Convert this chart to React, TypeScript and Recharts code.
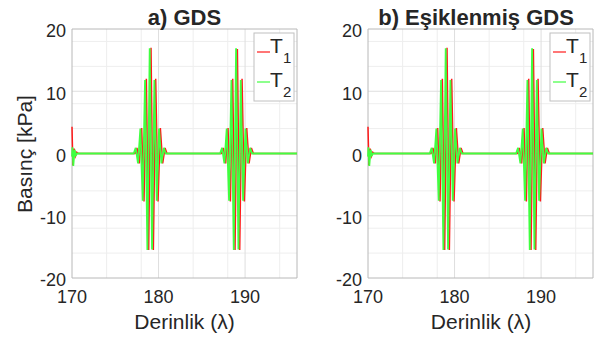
import { LineChart, Line, XAxis, YAxis, CartesianGrid, ReferenceArea } from 'recharts';

// depth (λ) and pressure (kPa)
const depthT1 = [
  170, 170.1, 170.25, 170.4, 170.55, 170.75,
  177.28, 177.51, 177.78, 178.05, 178.32, 178.59, 178.86, 179.13, 179.4, 179.67, 179.94, 180.21, 180.48, 180.75, 180.98,
  187.26, 187.49, 187.76, 188.03, 188.3, 188.57, 188.84, 189.11, 189.38, 189.65, 189.92, 190.19, 190.46, 190.73, 190.96,
  196,
];
const pressureT1 = [
  4.3, -1.9, 0.8, -0.4, 0.2, 0,
  0, 0.9, -1.6, 4.1, -7.7, 12, -15.5, 17, -15.5, 12, -7.7, 4.1, -1.6, 0.9, 0,
  0, 0.9, -1.6, 4.1, -7.7, 12, -15.5, 16.8, -15.5, 12, -7.7, 4.1, -1.6, 0.9, 0,
  0,
];
const depthT2 = [
  170, 170.05, 170.15, 170.3, 170.45, 170.6,
  177.13, 177.36, 177.63, 177.9, 178.17, 178.44, 178.71, 178.98, 179.25, 179.52, 179.79, 180.06, 180.33, 180.6, 180.83,
  187.11, 187.34, 187.61, 187.88, 188.15, 188.42, 188.69, 188.96, 189.23, 189.5, 189.77, 190.04, 190.31, 190.58, 190.81,
  196,
];
const pressureT2 = [
  -0.5, 1.0, -2.0, 0.6, -0.3, 0,
  0, 0.9, -1.6, 4.0, -7.6, 11.8, -15.5, 16.9, -15.4, 11.8, -7.6, 4.0, -1.6, 0.9, 0,
  0, 0.9, -1.6, 4.0, -7.6, 11.8, -15.5, 16.9, -15.4, 11.8, -7.6, 4.0, -1.6, 0.9, 0,
  0,
];

const xTicks = [170, 180, 190];
const yTicks = [-20, -10, 0, 10, 20];
const xMinor = [172, 174, 176, 178, 182, 184, 186, 188, 192, 194];
const yMinor = [-18, -16, -14, -12, -8, -6, -4, -2, 2, 4, 6, 8, 12, 14, 16, 18];
const xMajor = [180, 190];
const yMajor = [-10, 0, 10];

const t1 = depthT1.map((x, i) => ({ x, y: pressureT1[i] }));
const t2 = depthT2.map((x, i) => ({ x, y: pressureT2[i] }));

const FONT = '"Liberation Sans", Arial, sans-serif';
const TEXT = '#262626';
const RED = '#ff1a1a';
const GREEN = '#40ff40';

function Panel({ left }: { left: number }) {
  return (
    <div style={{ position: 'absolute', left, top: 0 }}>
      <LineChart width={300} height={338} margin={{ top: 29, right: 3, bottom: 30, left: 0 }}>
        <CartesianGrid stroke="#eeeeee" horizontalValues={yMinor} verticalValues={xMinor} />
        <CartesianGrid stroke="#dedede" horizontalValues={yMajor} verticalValues={xMajor} />
        <XAxis
          dataKey="x"
          type="number"
          domain={[170, 196]}
          ticks={xTicks}
          axisLine={false}
          tickLine={false}
          tickSize={0}
          tickMargin={12}
          height={30}
          tick={{ fill: TEXT, fontSize: 18, fontFamily: FONT }}
        />
        <YAxis
          type="number"
          domain={[-20, 20]}
          ticks={yTicks}
          axisLine={false}
          tickLine={false}
          tickSize={0}
          tickMargin={6}
          width={72}
          tick={{ fill: TEXT, fontSize: 18, fontFamily: FONT, dy: 2 }}
        />
        <ReferenceArea x1={170} x2={196} y1={-20} y2={20} fill="none" stroke="#b8b8b8" strokeWidth={1} ifOverflow="visible" />
        <Line data={t1} dataKey="y" stroke={RED} strokeWidth={1.5} dot={false} isAnimationActive={false} />
        <Line data={t2} dataKey="y" stroke={GREEN} strokeWidth={1.8} dot={false} isAnimationActive={false} />
      </LineChart>
    </div>
  );
}

function LegendBox({ x }: { x: number }) {
  return (
    <g fontFamily={FONT} fill={TEXT}>
      <rect x={x} y={33} width={40} height={68} fill="#fff" stroke="#c0c0c0" strokeWidth={1} />
      <line x1={x + 3} x2={x + 16} y1={52} y2={52} stroke={RED} strokeWidth={1.2} />
      <text x={x + 16} y={53} fontSize={21}>T</text>
      <text x={x + 29} y={63} fontSize={15}>1</text>
      <line x1={x + 3} x2={x + 16} y1={82} y2={82} stroke={GREEN} strokeWidth={1.2} />
      <text x={x + 16} y={87} fontSize={21}>T</text>
      <text x={x + 29} y={97} fontSize={15}>2</text>
    </g>
  );
}

export default function App() {
  return (
    <div style={{ position: 'absolute', left: 0, top: 0, width: 594, height: 338, background: '#fff' }}>
      <Panel left={0} />
      <Panel left={296} />
      <svg width={594} height={338} style={{ position: 'absolute', left: 0, top: 0, pointerEvents: 'none' }}>
        <g fontFamily={FONT} fill={TEXT}>
          <text x={184.5} y={25} fontSize={22} fontWeight="bold" textAnchor="middle">a) GDS</text>
          <text x={476} y={25} fontSize={22} fontWeight="bold" textAnchor="middle">b) Eşiklenmiş GDS</text>
          <text transform="translate(32,154) rotate(-90)" fontSize={21} textAnchor="middle">Basınç [kPa]</text>
          <text x={184.5} y={329} fontSize={21} textAnchor="middle">Derinlik (λ)</text>
          <text x={481} y={329} fontSize={21} textAnchor="middle">Derinlik (λ)</text>
        </g>
        <LegendBox x={254} />
        <LegendBox x={550} />
      </svg>
    </div>
  );
}
